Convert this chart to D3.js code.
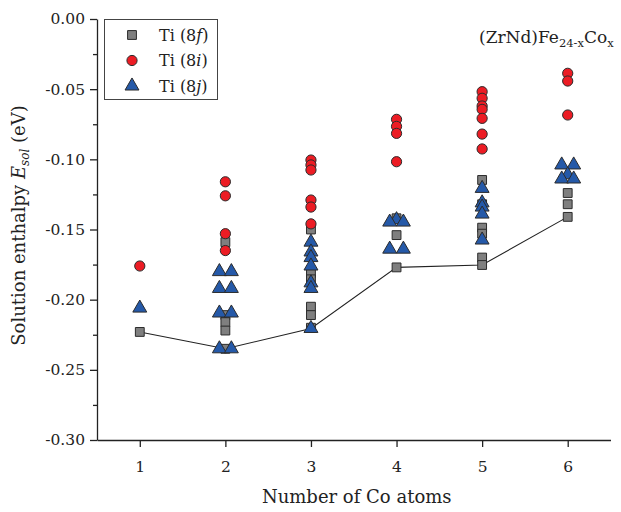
<!DOCTYPE html>
<html>
<head>
<meta charset="utf-8">
<script src="https://cdn.jsdelivr.net/npm/d3@7"></script>
<style>
  html, body { margin: 0; padding: 0; background: #fff; }
  svg { display: block; }
  text { font-family: "DejaVu Serif", "Liberation Serif", serif; fill: #222; }
</style>
</head>
<body>
<svg id="chart" width="621" height="512"></svg>
<script>
// Axis ticks
const xTicks = [1, 2, 3, 4, 5, 6];
const yTicks = [0, -0.05, -0.10, -0.15, -0.20, -0.25, -0.30];

// Ti on the 8f site: [number of Co atoms, solution enthalpy (eV)]
const tiF = [
  [1, -0.223],
  [2, -0.159], [2, -0.211], [2, -0.216], [2, -0.222], [2, -0.235],
  [3, -0.150], [3, -0.181], [3, -0.1855], [3, -0.205], [3, -0.211], [3, -0.220],
  [4, -0.142], [4, -0.154], [4, -0.177],
  [5, -0.1147], [5, -0.132], [5, -0.1487], [5, -0.153], [5, -0.170], [5, -0.1753],
  [6, -0.124], [6, -0.132], [6, -0.141]
];

// Ti on the 8i site
const tiI = [
  [1, -0.176],
  [2, -0.116], [2, -0.126], [2, -0.153], [2, -0.165],
  [3, -0.1005], [3, -0.104], [3, -0.1076], [3, -0.129], [3, -0.134], [3, -0.146],
  [4, -0.0715], [4, -0.0765], [4, -0.0815], [4, -0.1017],
  [5, -0.0518], [5, -0.0565], [5, -0.062], [5, -0.0644], [5, -0.0708], [5, -0.082], [5, -0.0926],
  [6, -0.0387], [6, -0.0442], [6, -0.0684]
];

// Ti on the 8j site (pairs of equal energy are drawn side by side)
const tiJ = [
  [1, -0.206],
  [1.93, -0.180], [2.07, -0.180], [1.93, -0.192], [2.07, -0.192],
  [1.93, -0.2095], [2.07, -0.2095], [1.93, -0.235], [2.07, -0.235],
  [3, -0.159], [3, -0.166], [3, -0.170], [3, -0.176], [3, -0.188], [3, -0.192], [3, -0.2205],
  [4, -0.143], [3.92, -0.1447], [4.08, -0.1447], [3.92, -0.164], [4.08, -0.164],
  [5, -0.1207], [5, -0.131], [5, -0.134], [5, -0.139], [5, -0.1575],
  [5.93, -0.104], [6.07, -0.104], [6, -0.111], [5.93, -0.114], [6.07, -0.114]
];

// Lowest solution enthalpy for each Co count
const minCo = [1, 2, 3, 4, 5, 6];
const minE = [-0.223, -0.235, -0.2205, -0.177, -0.1753, -0.141];

const svg = d3.select("#chart");
const plotL = 97, plotR = 610.5, plotT = 19, plotB = 440;

const x = d3.scaleLinear().domain([0.5, 6.5]).range([plotL, plotR]);
const y = d3.scaleLinear().domain([-0.30, 0]).range([plotB, plotT]);

// Y axis: major ticks every 0.05, minor ticks in between
const yMinor = d3.range(-0.275, 0, 0.05);
svg.append("g")
  .attr("transform", `translate(${plotL},0)`)
  .call(d3.axisLeft(y).tickValues(yMinor).tickSize(4).tickFormat(""))
  .call(g => g.select(".domain").remove());
const yAxis = svg.append("g")
  .attr("transform", `translate(${plotL},0)`)
  .call(d3.axisLeft(y).tickValues(yTicks).tickSize(7).tickSizeOuter(0).tickPadding(5)
    .tickFormat(d => d3.format(".2f")(d).replace("−", "-")));
yAxis.selectAll("text").attr("font-size", 15.5);

// X axis
const xAxis = svg.append("g")
  .attr("transform", `translate(0,${plotB})`)
  .call(d3.axisBottom(x).tickValues(xTicks).tickSize(7).tickSizeOuter(0).tickPadding(14)
    .tickFormat(d3.format("d")));
xAxis.selectAll("text").attr("font-size", 15.5);

svg.selectAll(".domain, .tick line").attr("stroke", "#222").attr("stroke-width", 1.3);

// Axis titles
svg.append("text")
  .attr("x", (plotL + plotR) / 2 + 3).attr("y", 503)
  .attr("text-anchor", "middle").attr("font-size", 18)
  .text("Number of Co atoms");

const yt = svg.append("text")
  .attr("transform", `translate(25,${(plotT + plotB) / 2 - 4}) rotate(-90)`)
  .attr("text-anchor", "middle").attr("font-size", 18);
yt.append("tspan").text("Solution enthalpy ");
yt.append("tspan").attr("font-style", "italic").text("E");
yt.append("tspan").attr("font-style", "italic").attr("font-size", 12).attr("dy", 4).text("sol");
yt.append("tspan").attr("dy", -4).text(" (eV)");

// Lowest-energy trend line
const line = d3.line().x(d => x(d)).y((d, i) => y(minE[i]));
svg.append("path")
  .attr("d", line(minCo))
  .attr("fill", "none").attr("stroke", "#222").attr("stroke-width", 1.1);

// Marker styles
const sq = d3.symbol().type(d3.symbolSquare).size(78)();
const ci = d3.symbol().type(d3.symbolCircle).size(82)();
const tr = d3.symbol().type(d3.symbolTriangle).size(84)();
const stroke = "#2b2b2b";

function drawSeries(data, path, fill) {
  svg.append("g").selectAll("path").data(data).join("path")
    .attr("d", path)
    .attr("transform", d => `translate(${x(d[0])},${y(d[1])})`)
    .attr("fill", fill).attr("stroke", stroke).attr("stroke-width", 1);
}
drawSeries(tiF, sq, "#7f7f7f");
drawSeries(tiI, ci, "#ec1c24");
drawSeries(tiJ, tr, "#2559a8");

// Legend
const lg = svg.append("g");
lg.append("rect").attr("x", 104.5).attr("y", 19.5).attr("width", 113).attr("height", 80)
  .attr("fill", "#fff").attr("stroke", "#444").attr("stroke-width", 1);
const legendItems = [
  { path: sq, fill: "#7f7f7f", site: "f" },
  { path: ci, fill: "#ec1c24", site: "i" },
  { path: tr, fill: "#2559a8", site: "j" }
];
legendItems.forEach((it, i) => {
  const cy = 35 + i * 25.5;
  lg.append("path").attr("d", it.path)
    .attr("transform", `translate(132,${cy})`)
    .attr("fill", it.fill).attr("stroke", stroke).attr("stroke-width", 1);
  const t = lg.append("text").attr("x", 159).attr("y", cy + 5.5).attr("font-size", 16);
  t.append("tspan").text("Ti (8");
  t.append("tspan").attr("font-style", "italic").text(it.site);
  t.append("tspan").text(")");
});

// Composition label
const title = svg.append("text").attr("x", 479).attr("y", 43).attr("font-size", 17);
title.append("tspan").text("(ZrNd)Fe");
title.append("tspan").attr("font-size", 11.5).attr("dy", 4).text("24-x");
title.append("tspan").attr("dy", -4).text("Co");
title.append("tspan").attr("font-size", 11.5).attr("dy", 4).text("x");
</script>
</body>
</html>
